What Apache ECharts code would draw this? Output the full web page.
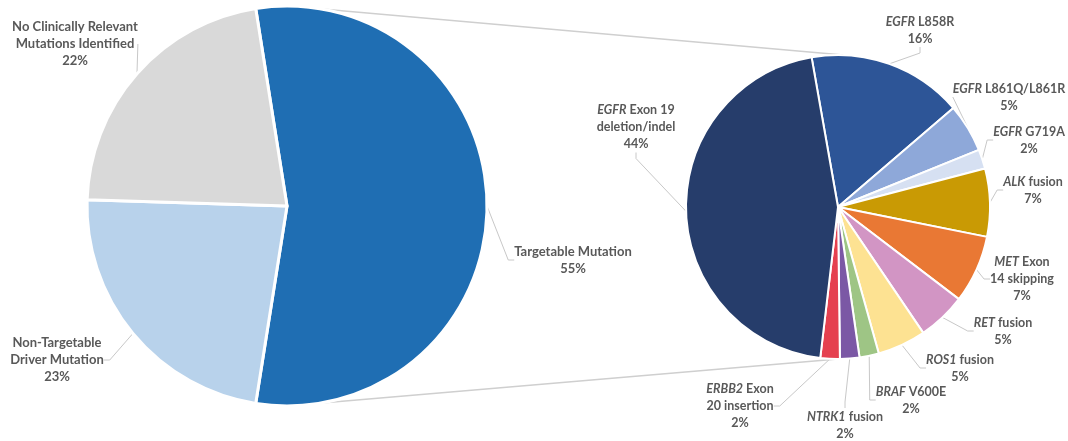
<!DOCTYPE html>
<html>
<head>
<meta charset="utf-8">
<script src="https://cdn.jsdelivr.net/npm/echarts@6/dist/echarts.min.js"></script>
<style>
  html, body { margin: 0; padding: 0; background: #fff; }
  #chart { width: 1068px; height: 441px; }
</style>
</head>
<body>
<div id="chart"></div>
<script>
// Main pie: overall mutation status
const mainNames = ['Targetable Mutation', 'Non-Targetable\nDriver Mutation', 'No Clinically Relevant\nMutations Identified'];
const mainValues = [55, 23, 22];
const mainColors = ['#1F6EB3', '#B8D2EB', '#D9D9D9'];

// Secondary pie: breakdown of targetable mutations (clockwise from top)
const subGenes = ['EGFR', 'EGFR', 'EGFR', 'ALK', 'MET', 'RET', 'ROS1', 'BRAF', 'NTRK1', 'ERBB2', 'EGFR'];
const subDetails = [' L858R', ' L861Q/L861R', ' G719A', ' fusion', ' Exon\n14 skipping', ' fusion', ' fusion', ' V600E', ' fusion', ' Exon\n20 insertion', ' Exon 19\ndeletion/indel'];
const subValues = [16, 5, 2, 7, 7, 5, 5, 2, 2, 2, 44];
const subColors = ['#2D5597', '#8EA8D9', '#D6E0F2', '#C99A04', '#E97834', '#D295C4', '#FDE292', '#9EC585', '#7B58A5', '#E5404F', '#263D6B'];

// Layout
const LEFT = { cx: 287, cy: 206, r: 200, start: 99 };
const RIGHT = { cx: 838, cy: 207, r: 152, start: 100 };
const mainLabelPos = [[573, 260], [57, 360], [75, 44]];
const subLabelPos = [[920, 30], [1009, 97], [1029, 140], [1033, 190], [1022, 279], [1003, 331], [960, 368], [911, 400], [845, 425], [740, 406], [636, 127]];

const FONT = 'Lato, "Open Sans", sans-serif';
const TEXT = '#595959';

const chart = echarts.init(document.getElementById('chart'), null, { renderer: 'canvas' });

function subLabel(i) {
  const parts = subDetails[i].split('\n');
  let s = '{i|' + subGenes[i] + '}{n|' + parts[0] + '}';
  for (let k = 1; k < parts.length; k++) s += '\n{n|' + parts[k] + '}';
  return s + '\n{n|' + subValues[i] + '%}';
}

function polar(p, deg) {
  const a = deg * Math.PI / 180;
  return [p.cx + p.r * Math.cos(a), p.cy - p.r * Math.sin(a)];
}

const topA = polar(LEFT, 80), topB = polar(RIGHT, 88);
const botA = polar(LEFT, -80), botB = polar(RIGHT, -90);

chart.setOption({
  animation: false,
  backgroundColor: '#ffffff',
  graphic: [
    { type: 'line', z: -1, shape: { x1: topA[0], y1: topA[1], x2: topB[0], y2: topB[1] }, style: { stroke: '#CFCFCF', lineWidth: 1.5 } },
    { type: 'line', z: -1, shape: { x1: botA[0], y1: botA[1], x2: botB[0], y2: botB[1] }, style: { stroke: '#CFCFCF', lineWidth: 1.5 } }
  ],
  series: [
    {
      type: 'pie',
      center: [LEFT.cx, LEFT.cy],
      radius: LEFT.r,
      startAngle: LEFT.start,
      clockwise: true,
      avoidLabelOverlap: false,
      itemStyle: { borderColor: '#ffffff', borderWidth: 3 },
      label: {
        show: true,
        position: 'outside',
        alignTo: 'none',
        fontFamily: FONT,
        fontSize: 13,
        fontWeight: 'bold',
        color: TEXT,
        lineHeight: 17,
        align: 'center',
        formatter: p => p.name + '\n' + p.value + '%'
      },
      labelLine: { show: true, length: 10, length2: 6, lineStyle: { color: '#C8C8C8', width: 1 } },
      labelLayout: p => ({ x: mainLabelPos[p.dataIndex][0], y: mainLabelPos[p.dataIndex][1], align: 'center', verticalAlign: 'middle' }),
      emphasis: { disabled: true },
      data: mainNames.map((n, i) => ({ name: n, value: mainValues[i], itemStyle: { color: mainColors[i] } }))
    },
    {
      type: 'pie',
      center: [RIGHT.cx, RIGHT.cy],
      radius: RIGHT.r,
      startAngle: RIGHT.start,
      clockwise: true,
      avoidLabelOverlap: false,
      itemStyle: { borderColor: '#ffffff', borderWidth: 2 },
      label: {
        show: true,
        position: 'outside',
        alignTo: 'none',
        fontFamily: FONT,
        fontSize: 12.5,
        color: TEXT,
        lineHeight: 17,
        align: 'center',
        formatter: p => subLabel(p.dataIndex),
        rich: {
          i: { fontFamily: FONT, fontSize: 12.5, fontStyle: 'italic', fontWeight: 'bold', color: TEXT, lineHeight: 17 },
          n: { fontFamily: FONT, fontSize: 12.5, fontWeight: 'bold', color: TEXT, lineHeight: 17 }
        }
      },
      labelLine: { show: true, length: 10, length2: 6, lineStyle: { color: '#C8C8C8', width: 1 } },
      labelLayout: p => ({ x: subLabelPos[p.dataIndex][0], y: subLabelPos[p.dataIndex][1], align: 'center', verticalAlign: 'middle' }),
      emphasis: { disabled: true },
      data: subValues.map((v, i) => ({ name: subGenes[i] + subDetails[i].replace('\n', ' '), value: v, itemStyle: { color: subColors[i] } }))
    }
  ]
});
</script>
</body>
</html>
